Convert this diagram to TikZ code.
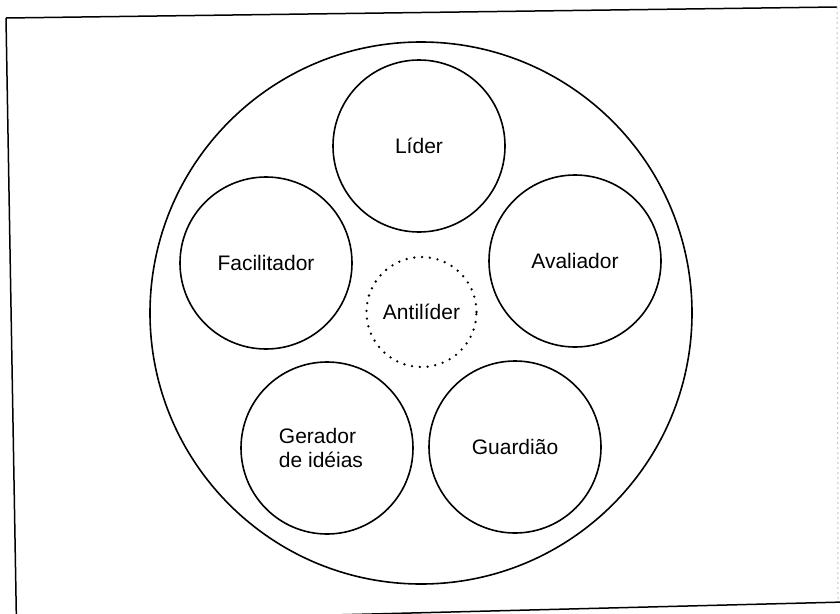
\documentclass[tikz,border=0pt]{standalone}
\usepackage{fontspec}
\setmainfont{Liberation Sans}
\begin{document}
\begin{tikzpicture}[x=1pt,y=-1pt,
  role/.style={circle,draw=black,line width=1.6pt,minimum size=172pt,inner sep=0pt,
    font=\fontsize{21}{25}\selectfont},
  ghost/.style={circle,draw=black,line width=2.6pt,dash pattern=on 0pt off 7.8pt,line cap=round,
    minimum size=110pt,inner sep=0pt,font=\fontsize{21}{25}\selectfont}]
\useasboundingbox (0,0) rectangle (840,613);
\fill[white] (0,0) rectangle (840,613);
\begin{scope}
\clip (0,0) rectangle (840,613);
\draw[line width=1.5pt] (6,18) -- (837,7);
\draw[line width=1.5pt] (6,18) -- (16.5,625);
\draw[line width=1.5pt] (16.5,623) -- (845,602);
\draw[gray!45,line width=1pt,dash pattern=on 2pt off 3pt] (837,7) -- (838,601);
\end{scope}
\node[circle,draw=black,line width=1.6pt,minimum size=542pt,inner sep=0pt] (outer) at (421,313) {};
\node[role] (lider) at (419,146) {Líder};
\node[role] (facil) at (266,263) {Facilitador};
\node[role] (aval) at (575,261) {Avaliador};
\node[role] (gerador) at (327,448) {};
\node[role] (guard) at (515,447) {Guardião};
\node[ghost] (anti) at (421.5,312) {Antilíder};
\node[font=\fontsize{21}{24}\selectfont,align=left,inner sep=0pt] (gertext) at (321,448) {Gerador\\de idéias};
\end{tikzpicture}
\end{document}
